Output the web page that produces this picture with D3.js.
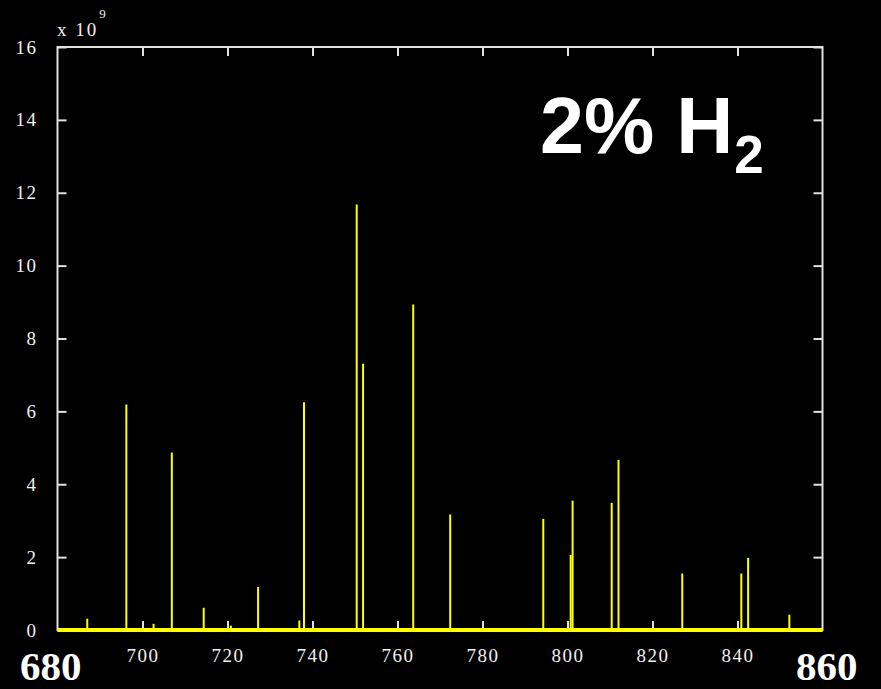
<!DOCTYPE html>
<html>
<head>
<meta charset="utf-8">
<script src="https://cdn.jsdelivr.net/npm/d3@7"></script>
<style>
  body { margin: 0; background: #000; }
  svg { display: block; }
</style>
</head>
<body>
<svg id="chart"></svg>
<script>
// spectrum lines: wavelength (nm) and intensity (x 10^9)
const wavelengths = [687.0, 696.2, 702.6, 706.9, 714.4, 720.8, 727.2, 736.9, 738.0,
  750.4, 751.9, 763.7, 772.4, 794.3, 800.75, 801.2, 810.4, 812.0, 827.0, 840.9, 842.5, 852.2];
const intensities = [0.31, 6.19, 0.17, 4.87, 0.61, 0.12, 1.18, 0.26, 6.25,
  11.68, 7.31, 8.93, 3.17, 3.05, 2.06, 3.55, 3.49, 4.67, 1.55, 1.55, 1.98, 0.42];
const xTicks = [700, 720, 740, 760, 780, 800, 820, 840];
const yTicks = [0, 2, 4, 6, 8, 10, 12, 14, 16];
const xDomain = [680, 860];
const yDomain = [0, 16];

const W = 881, H = 689;
const margin = { top: 47, right: 58.5, bottom: 59, left: 57.5 };
const width = W - margin.left - margin.right;
const height = H - margin.top - margin.bottom;

const svg = d3.select("#chart").attr("width", W).attr("height", H);
svg.append("rect").attr("width", W).attr("height", H).attr("fill", "#000");

const g = svg.append("g")
  .attr("transform", "translate(" + margin.left + "," + margin.top + ")");

const x = d3.scaleLinear().domain(xDomain).range([0, width]);
const y = d3.scaleLinear().domain(yDomain).range([height, 0]);

const frameColor = "#e0e0e0";
const tickFont = "'Liberation Serif', 'Times New Roman', serif";

// inward ticks on all four sides (matlab style box)
const tickLen = 9;
g.append("g").attr("transform", "translate(0," + height + ")")
  .call(d3.axisBottom(x).tickValues(xTicks).tickSize(-tickLen).tickPadding(tickLen + 10).tickSizeOuter(0))
  .call(a => a.select(".domain").remove());
g.append("g")
  .call(d3.axisTop(x).tickValues(xTicks).tickSize(-tickLen).tickFormat("").tickSizeOuter(0))
  .call(a => a.select(".domain").remove());
g.append("g")
  .call(d3.axisLeft(y).tickValues(yTicks).tickSize(-tickLen).tickPadding(tickLen + 11).tickSizeOuter(0))
  .call(a => a.select(".domain").remove());
g.append("g").attr("transform", "translate(" + width + ",0)")
  .call(d3.axisRight(y).tickValues(yTicks).tickSize(-tickLen).tickFormat("").tickSizeOuter(0))
  .call(a => a.select(".domain").remove());

g.selectAll(".tick line").attr("stroke", frameColor).attr("stroke-width", 2);
g.selectAll(".tick text")
  .attr("fill", "#f0f0f0")
  .style("font-family", tickFont)
  .style("font-size", "19px")
  .style("letter-spacing", "1.5px");

// frame
g.append("rect")
  .attr("x", 0).attr("y", 0)
  .attr("width", width).attr("height", height)
  .attr("fill", "none")
  .attr("stroke", frameColor)
  .attr("stroke-width", 2);

// baseline of the spectrum
g.append("line")
  .attr("x1", x(xDomain[0])).attr("x2", x(xDomain[1]))
  .attr("y1", y(0)).attr("y2", y(0))
  .attr("stroke", "#ffff00")
  .attr("stroke-width", 4);

// spectral lines
const lines = wavelengths.map((w, i) => ({ w: w, v: intensities[i] }));
g.selectAll(".peak")
  .data(lines)
  .enter()
  .append("line")
  .attr("class", "peak")
  .attr("x1", d => x(d.w)).attr("x2", d => x(d.w))
  .attr("y1", y(0)).attr("y2", d => y(d.v))
  .attr("stroke", "#ffff00")
  .attr("stroke-width", 2);

// exponent label
const expo = svg.append("text")
  .attr("x", 57).attr("y", 36)
  .attr("fill", "#f0f0f0")
  .style("font-family", tickFont)
  .style("font-size", "19px")
  .style("letter-spacing", "2px");
expo.append("tspan").text("x 10");
expo.append("tspan").attr("dx", 1).attr("dy", -18).style("font-size", "13px").text("9");

// big range labels
svg.append("text")
  .attr("x", 20).attr("y", 680)
  .attr("fill", "#fff")
  .style("font-family", tickFont)
  .style("font-weight", "bold")
  .style("font-size", "41px")
  .text("680");
svg.append("text")
  .attr("x", 796).attr("y", 680)
  .attr("fill", "#fff")
  .style("font-family", tickFont)
  .style("font-weight", "bold")
  .style("font-size", "41px")
  .text("860");

// title inside plot
const title = svg.append("text")
  .attr("x", 540).attr("y", 153)
  .attr("fill", "#fff")
  .style("font-family", "'Liberation Sans', Arial, sans-serif")
  .style("font-weight", "bold")
  .style("font-size", "79px");
title.append("tspan").text("2% H");
title.append("tspan").attr("dx", 1).attr("dy", 20).style("font-size", "53px").text("2");
</script>
</body>
</html>
